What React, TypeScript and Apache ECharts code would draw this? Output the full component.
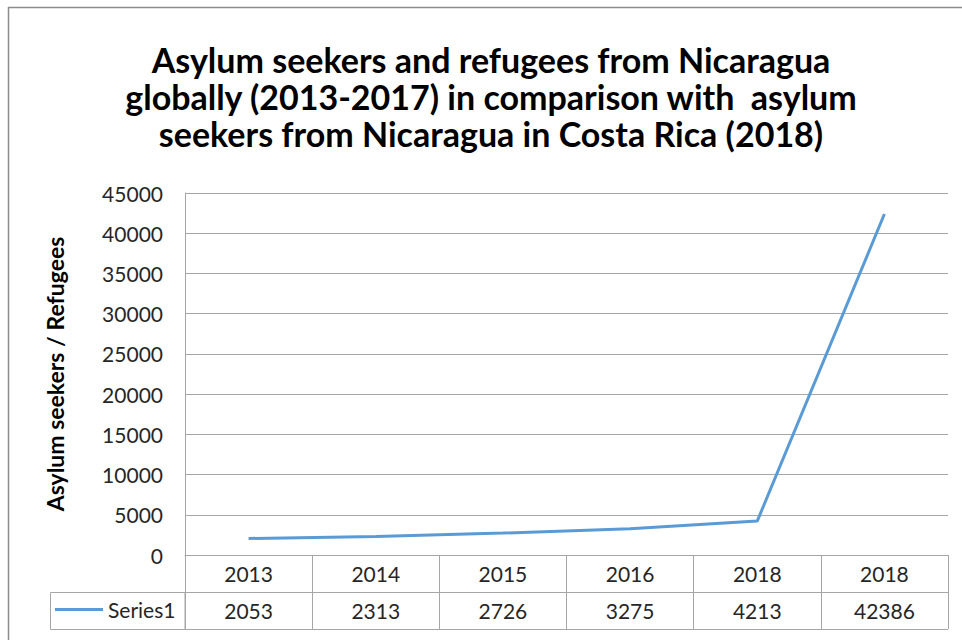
import React, { useEffect, useRef } from "react";
import * as echarts from "echarts";

const titleText =
  "Asylum seekers and refugees from Nicaragua\nglobally (2013-2017) in comparison with  asylum\nseekers from Nicaragua in Costa Rica (2018)";
const yAxisName = "Asylum seekers / Refugees";
const seriesName = "Series1";
const categories = ["2013", "2014", "2015", "2016", "2018", "2018"];
const values = [2053, 2313, 2726, 3275, 4213, 42386];
const yMin = 0;
const yMax = 45000;
const yInterval = 5000;

const FONT = "Lato, 'Open Sans', sans-serif";
const GRID_COLOR = "#a6a6a6";
const TEXT_COLOR = "#262626";

export default function App() {
  const ref = useRef<HTMLDivElement>(null);
  useEffect(() => {
    document.body.style.margin = "0";
    const chart = echarts.init(ref.current!, null, { renderer: "svg" });
    chart.setOption({
      animation: false,
      backgroundColor: "#fff",
      title: {
        text: titleText,
        left: 486,
        top: 36,
        textAlign: "center",
        textStyle: {
          fontFamily: FONT,
          fontWeight: "bold",
          fontSize: 34,
          lineHeight: 37,
          color: "#000",
        },
      },
      legend: {
        data: [seriesName],
        left: 55,
        top: 599,
        padding: 0,
        icon: "rect",
        itemWidth: 48,
        itemHeight: 3,
        itemGap: 5,
        textStyle: { fontFamily: FONT, fontSize: 21, color: TEXT_COLOR, padding: [0, 0, 0, 0] },
      },
      grid: { left: 185, right: 14, top: 193, bottom: 85, containLabel: false },
      xAxis: [
        {
          type: "category",
          data: categories,
          boundaryGap: true,
          axisLine: { show: true, lineStyle: { color: GRID_COLOR, width: 1 } },
          axisTick: { show: true, interval: 0, length: 37, lineStyle: { color: GRID_COLOR } },
          axisLabel: { interval: 0, margin: 8, fontFamily: FONT, fontSize: 21, color: TEXT_COLOR },
          splitLine: { show: false },
        },
        {
          type: "category",
          data: values.map((v) => String(v)),
          position: "bottom",
          offset: 37,
          boundaryGap: true,
          axisLine: { show: true, lineStyle: { color: GRID_COLOR, width: 1 } },
          axisTick: { show: true, interval: 0, length: 37, lineStyle: { color: GRID_COLOR } },
          axisLabel: { interval: 0, margin: 8, fontFamily: FONT, fontSize: 21, color: TEXT_COLOR },
          splitLine: { show: false },
        },
      ],
      yAxis: {
        type: "value",
        min: yMin,
        max: yMax,
        interval: yInterval,
        name: yAxisName,
        nameLocation: "middle",
        nameGap: 119,
        nameRotate: 90,
        nameTextStyle: { fontFamily: FONT, fontWeight: "bold", fontSize: 23, color: "#000" },
        axisLine: { show: true, lineStyle: { color: GRID_COLOR, width: 1 } },
        axisTick: { show: false },
        axisLabel: {
          margin: 22,
          fontFamily: FONT,
          fontSize: 21,
          color: TEXT_COLOR,
          formatter: (v: number) => String(v),
        },
        splitLine: { show: true, lineStyle: { color: GRID_COLOR, width: 1 } },
      },
      series: [
        {
          name: seriesName,
          type: "line",
          xAxisIndex: 0,
          data: values,
          symbol: "none",
          lineStyle: { color: "#5b9bd5", width: 3 },
          itemStyle: { color: "#5b9bd5" },
        },
      ],
      graphic: [
        {
          type: "line",
          shape: { x1: 8, y1: 7.5, x2: 962, y2: 7.5 },
          style: { stroke: "#8c8c8c", lineWidth: 1.5 },
        },
        {
          type: "line",
          shape: { x1: 8.5, y1: 7, x2: 8.5, y2: 640 },
          style: { stroke: "#8c8c8c", lineWidth: 1.5 },
        },
        {
          type: "rect",
          shape: { x: 50.5, y: 592.5, width: 134.5, height: 37 },
          style: { fill: "none", stroke: GRID_COLOR, lineWidth: 1 },
        },
        {
          type: "line",
          shape: { x1: 185, y1: 629.5, x2: 948, y2: 629.5 },
          style: { stroke: GRID_COLOR, lineWidth: 1 },
        },
      ],
    });
    return () => chart.dispose();
  }, []);
  return <div ref={ref} style={{ width: 962, height: 640 }} />;
}
